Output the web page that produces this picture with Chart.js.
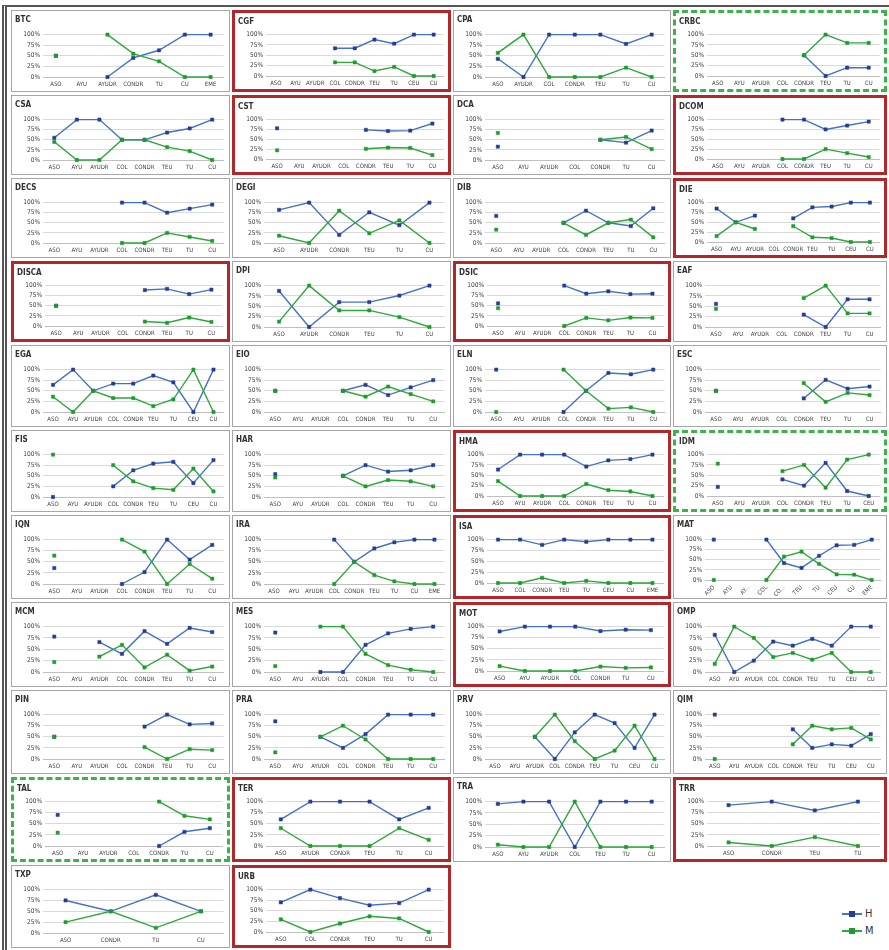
<!DOCTYPE html>
<html>
<head>
<meta charset="utf-8">
<script src="https://cdn.jsdelivr.net/npm/chart.js@4/dist/chart.umd.min.js"></script>
<style>
  body { margin: 0; background: #fff; width: 889px; height: 950px; overflow: hidden; position: relative;
         font-family: 'Liberation Sans Narrow', 'DejaVu Sans Condensed', 'Liberation Sans', sans-serif; }
  #frame { position: absolute; left: 2px; top: 5px; width: 887px; height: 950px; box-sizing: border-box;
           border-left: 5px double #555; border-top: 2px solid #555; }
  .panel { position: absolute; box-sizing: border-box; border: 1.5px solid #a6a6a6; background: #fff; }
  .panel.red { border: 3px solid #b3272b; }
  .panel.green { border: 3px dashed #3cb34a; }
  .panel canvas { display: block; }
  #legend { position: absolute; left: 842px; top: 905px; font-size: 11px; color: #333; }
  #legend div { height: 17px; display: flex; align-items: center; }
  #legend .ln { position: relative; width: 20px; height: 2px; margin-right: 3px; }
  #legend .ln i { position: absolute; left: 7px; top: -2px; width: 6px; height: 6px; }
</style>
</head>
<body>
<div id="frame"></div>
<div id="legend">
  <div><span class="ln" style="background:#4472c4"><i style="background:#253c97"></i></span>H</div>
  <div><span class="ln" style="background:#2ea83a"><i style="background:#1d9c2d"></i></span>M</div>
</div>
<script>
// share of men (H) and women (M) per stage, in %
const panelNames = [
  'BTC', 'CGF', 'CPA', 'CRBC',
  'CSA', 'CST', 'DCA', 'DCOM',
  'DECS', 'DEGI', 'DIB', 'DIE',
  'DISCA', 'DPI', 'DSIC', 'EAF',
  'EGA', 'EIO', 'ELN', 'ESC',
  'FIS', 'HAR', 'HMA', 'IDM',
  'IQN', 'IRA', 'ISA', 'MAT',
  'MCM', 'MES', 'MOT', 'OMP',
  'PIN', 'PRA', 'PRV', 'QIM',
  'TAL', 'TER', 'TRA', 'TRR',
  'TXP', 'URB'
];

const panelCategories = [
  ['ASO', 'AYU', 'AYUDR', 'CONDR', 'TU', 'CU', 'EME'],
  ['ASO', 'AYU', 'AYUDR', 'COL', 'CONDR', 'TEU', 'TU', 'CEU', 'CU'],
  ['ASO', 'AYUDR', 'COL', 'CONDR', 'TEU', 'TU', 'CU'],
  ['ASO', 'AYU', 'AYUDR', 'COL', 'CONDR', 'TEU', 'TU', 'CU'],
  ['ASO', 'AYU', 'AYUDR', 'COL', 'CONDR', 'TEU', 'TU', 'CU'],
  ['ASO', 'AYU', 'AYUDR', 'COL', 'CONDR', 'TEU', 'TU', 'CU'],
  ['ASO', 'AYU', 'AYUDR', 'COL', 'CONDR', 'TU', 'CU'],
  ['ASO', 'AYU', 'AYUDR', 'COL', 'CONDR', 'TEU', 'TU', 'CU'],
  ['ASO', 'AYU', 'AYUDR', 'COL', 'CONDR', 'TEU', 'TU', 'CU'],
  ['ASO', 'AYUDR', 'CONDR', 'TEU', 'TU', 'CU'],
  ['ASO', 'AYU', 'AYUDR', 'COL', 'CONDR', 'TEU', 'TU', 'CU'],
  ['ASO', 'AYU', 'AYUDR', 'COL', 'CONDR', 'TEU', 'TU', 'CEU', 'CU'],
  ['ASO', 'AYU', 'AYUDR', 'COL', 'CONDR', 'TEU', 'TU', 'CU'],
  ['ASO', 'AYUDR', 'CONDR', 'TEU', 'TU', 'CU'],
  ['ASO', 'AYU', 'AYUDR', 'COL', 'CONDR', 'TEU', 'TU', 'CU'],
  ['ASO', 'AYU', 'AYUDR', 'COL', 'CONDR', 'TEU', 'TU', 'CU'],
  ['ASO', 'AYU', 'AYUDR', 'COL', 'CONDR', 'TEU', 'TU', 'CEU', 'CU'],
  ['ASO', 'AYU', 'AYUDR', 'COL', 'CONDR', 'TEU', 'TU', 'CU'],
  ['ASO', 'AYU', 'AYUDR', 'COL', 'CONDR', 'TEU', 'TU', 'CU'],
  ['ASO', 'AYU', 'AYUDR', 'COL', 'CONDR', 'TEU', 'TU', 'CU'],
  ['ASO', 'AYU', 'AYUDR', 'COL', 'CONDR', 'TEU', 'TU', 'CEU', 'CU'],
  ['ASO', 'AYU', 'AYUDR', 'COL', 'CONDR', 'TEU', 'TU', 'CU'],
  ['ASO', 'AYU', 'AYUDR', 'COL', 'CONDR', 'TEU', 'TU', 'CU'],
  ['ASO', 'AYU', 'AYUDR', 'COL', 'CONDR', 'TEU', 'TU', 'CEU'],
  ['ASO', 'AYU', 'AYUDR', 'COL', 'CONDR', 'TEU', 'TU', 'CU'],
  ['ASO', 'AYU', 'AYUDR', 'COL', 'CONDR', 'TEU', 'TU', 'CU', 'EME'],
  ['ASO', 'COL', 'CONDR', 'TEU', 'TU', 'CEU', 'CU', 'EME'],
  ['ASO', 'AYU', 'AY...', 'COL', 'CO...', 'TEU', 'TU', 'CEU', 'CU', 'EME'],
  ['ASO', 'AYU', 'AYUDR', 'COL', 'CONDR', 'TEU', 'TU', 'CU'],
  ['ASO', 'AYU', 'AYUDR', 'COL', 'CONDR', 'TEU', 'TU', 'CU'],
  ['ASO', 'AYU', 'AYUDR', 'COL', 'CONDR', 'TU', 'CU'],
  ['ASO', 'AYU', 'AYUDR', 'COL', 'CONDR', 'TEU', 'TU', 'CEU', 'CU'],
  ['ASO', 'AYU', 'AYUDR', 'COL', 'CONDR', 'TEU', 'TU', 'CU'],
  ['ASO', 'AYU', 'AYUDR', 'COL', 'CONDR', 'TEU', 'TU', 'CU'],
  ['ASO', 'AYU', 'AYUDR', 'COL', 'CONDR', 'TEU', 'TU', 'CEU', 'CU'],
  ['ASO', 'AYU', 'AYUDR', 'COL', 'CONDR', 'TEU', 'TU', 'CEU', 'CU'],
  ['ASO', 'AYU', 'AYUDR', 'COL', 'CONDR', 'TU', 'CU'],
  ['ASO', 'AYUDR', 'CONDR', 'TEU', 'TU', 'CU'],
  ['ASO', 'AYU', 'AYUDR', 'COL', 'TEU', 'TU', 'CU'],
  ['ASO', 'CONDR', 'TEU', 'TU'],
  ['ASO', 'CONDR', 'TU', 'CU'],
  ['ASO', 'COL', 'CONDR', 'TEU', 'TU', 'CU']
];

const shareH = [
  [50, null, 0, 45, 63, 100, 100],
  [null, null, null, 67, 67, 88, 78, 100, 100],
  [43, 0, 100, 100, 100, 78, 100],
  [null, null, null, null, 50, 0, 20, 20],
  [55, 100, 100, 50, 50, 68, 78, 100],
  [78, null, null, null, 74, 71, 72, 90],
  [33, null, null, null, 50, 43, 73],
  [null, null, null, 100, 100, 75, 85, 95],
  [null, null, null, 100, 100, 75, 85, 95],
  [82, 100, 20, 76, 44, 100],
  [67, null, null, 50, 80, 50, 42, 86],
  [85, 50, 67, null, 60, 88, 90, 100, 100],
  [50, null, null, null, 89, 92, 79, 90],
  [87, 0, 60, 60, 76, 100],
  [56, null, null, 100, 80, 86, 79, 80],
  [56, null, null, null, 30, 0, 67, 67],
  [64, 100, 50, 67, 67, 86, 70, 0, 100],
  [50, null, null, 50, 64, 40, 58, 75],
  [100, null, null, 0, 50, 92, 89, 100],
  [50, null, null, null, 32, 76, 55, 60],
  [0, null, null, 25, 63, 79, 83, 33, 87],
  [54, null, null, 50, 75, 60, 63, 75],
  [64, 100, 100, 100, 71, 86, 89, 100],
  [22, null, null, 40, 25, 80, 12, 0],
  [36, null, null, 0, 27, 100, 55, 88],
  [null, null, null, 100, 50, 80, 94, 100, 100],
  [100, 100, 88, 100, 95, 100, 100, 100],
  [100, null, null, 100, 42, 30, 60, 86, 87, 100],
  [78, null, 66, 40, 90, 62, 97, 88],
  [87, null, 0, 0, 60, 85, 95, 100],
  [89, 100, 100, 100, 90, 93, 92],
  [82, 0, 25, 67, 58, 73, 58, 100, 100],
  [50, null, null, null, 73, 100, 78, 80],
  [85, null, 50, 25, 56, 100, 100, 100],
  [null, null, 50, 0, 60, 100, 81, 25, 100],
  [100, null, null, null, 67, 25, 33, 30, 56],
  [70, null, null, null, 0, 32, 40],
  [60, 100, 100, 100, 60, 86],
  [95, 100, 100, 0, 100, 100, 100],
  [92, 100, 80, 100],
  [75, 50, 88, 50],
  [70, 100, 80, 63, 68, 100]
];

const shareM = [
  [50, null, 100, 55, 37, 0, 0],
  [null, null, null, 33, 33, 12, 22, 0, 0],
  [57, 100, 0, 0, 0, 22, 0],
  [null, null, null, null, 50, 100, 80, 80],
  [45, 0, 0, 50, 50, 32, 22, 0],
  [22, null, null, null, 26, 29, 28, 10],
  [67, null, null, null, 50, 57, 27],
  [null, null, null, 0, 0, 25, 15, 5],
  [null, null, null, 0, 0, 25, 15, 5],
  [18, 0, 80, 24, 56, 0],
  [33, null, null, 50, 20, 50, 58, 14],
  [15, 50, 33, null, 40, 12, 10, 0, 0],
  [50, null, null, null, 11, 8, 21, 10],
  [13, 100, 40, 40, 24, 0],
  [44, null, null, 0, 20, 14, 21, 20],
  [44, null, null, null, 70, 100, 33, 33],
  [36, 0, 50, 33, 33, 14, 30, 100, 0],
  [50, null, null, 50, 36, 60, 42, 25],
  [0, null, null, 100, 50, 8, 11, 0],
  [50, null, null, null, 68, 24, 45, 40],
  [100, null, null, 75, 37, 21, 17, 67, 13],
  [46, null, null, 50, 25, 40, 37, 25],
  [36, 0, 0, 0, 29, 14, 11, 0],
  [78, null, null, 60, 75, 20, 88, 100],
  [64, null, null, 100, 73, 0, 45, 12],
  [null, null, null, 0, 50, 20, 6, 0, 0],
  [0, 0, 12, 0, 5, 0, 0, 0],
  [0, null, null, 0, 58, 70, 40, 14, 13, 0],
  [22, null, 34, 60, 10, 38, 3, 12],
  [13, null, 100, 100, 40, 15, 5, 0],
  [11, 0, 0, 0, 10, 7, 8],
  [18, 100, 75, 33, 42, 27, 42, 0, 0],
  [50, null, null, null, 27, 0, 22, 20],
  [15, null, 50, 75, 44, 0, 0, 0],
  [null, null, 50, 100, 40, 0, 19, 75, 0],
  [0, null, null, null, 33, 75, 67, 70, 44],
  [30, null, null, null, 100, 68, 60],
  [40, 0, 0, 0, 40, 14],
  [5, 0, 0, 100, 0, 0, 0],
  [8, 0, 20, 0],
  [25, 50, 12, 50],
  [30, 0, 20, 37, 32, 0]
];

// frame styles of the highlighted panels
const redFrames = ['CGF', 'CST', 'DCOM', 'DIE', 'DISCA', 'DSIC', 'HMA', 'ISA', 'MOT', 'TER', 'TRR', 'URB'];
const greenFrames = ['CRBC', 'IDM', 'TAL'];

const colLeft = [11, 232, 453, 673];
const colWidth = [219, 219, 218, 214];
const rowTop = [10, 95, 178, 261, 345, 430, 515, 602, 690, 777, 865];

Chart.defaults.font.family = "'Liberation Sans Narrow', 'DejaVu Sans Condensed', 'Liberation Sans', sans-serif";
Chart.defaults.color = '#404040';

panelNames.forEach((name, i) => {
  const row = Math.floor(i / 4), col = i % 4;
  const h = row < rowTop.length - 1 ? rowTop[row + 1] - rowTop[row] - 3 : 83;
  const framed = redFrames.includes(name) ? 'red' : greenFrames.includes(name) ? 'green' : '';
  const div = document.createElement('div');
  div.className = 'panel ' + framed;
  div.style.left = colLeft[col] + 'px';
  div.style.top = rowTop[row] + 'px';
  div.style.width = colWidth[col] + 'px';
  div.style.height = h + 'px';
  document.body.appendChild(div);
  const bw = framed ? 3 : 1.5;
  const canvas = document.createElement('canvas');
  canvas.width = Math.floor(colWidth[col] - 2 * bw);
  canvas.height = Math.floor(h - 2 * bw);
  div.appendChild(canvas);

  const rotated = panelCategories[i].some(c => c.includes('...'));
  new Chart(canvas, {
    type: 'line',
    data: {
      labels: panelCategories[i],
      datasets: [
        {
          label: 'H', data: shareH[i], order: 1, clip: 5,
          borderColor: '#4472c4', backgroundColor: '#253c97', pointBorderColor: '#253c97'
        },
        {
          label: 'M', data: shareM[i], order: 0, clip: 5,
          borderColor: '#2ea83a', backgroundColor: '#1d9c2d', pointBorderColor: '#1d9c2d'
        }
      ]
    },
    options: {
      responsive: false,
      animation: false,
      layout: { padding: { left: 3, right: 3, top: 0, bottom: rotated ? 0 : 2 } },
      elements: {
        line: { borderWidth: 1.4, tension: 0 },
        point: { pointStyle: 'rect', radius: 2.3, borderWidth: 0.5 }
      },
      plugins: {
        legend: { display: false },
        tooltip: { enabled: false },
        title: {
          display: true, text: name, align: 'start', color: '#333',
          font: { size: 8 }, padding: { top: 4, bottom: framed ? 8 : 10 }
        }
      },
      scales: {
        y: {
          min: 0, max: 100,
          ticks: { stepSize: 25, autoSkip: false, callback: v => v + '%', font: { size: 6.5 }, padding: 3 },
          grid: { color: '#d9d9d9', drawTicks: false },
          border: { display: false },
          afterFit: s => { s.width = 28; }
        },
        x: {
          offset: true,
          grid: { display: false, drawTicks: false },
          border: { color: '#bfbfbf' },
          ticks: {
            autoSkip: false, font: { size: 6 }, padding: 4,
            maxRotation: rotated ? 45 : 0, minRotation: rotated ? 45 : 0
          },
          afterFit: s => { s.height = rotated ? 17 : 11; }
        }
      }
    }
  });
});
</script>
</body>
</html>
